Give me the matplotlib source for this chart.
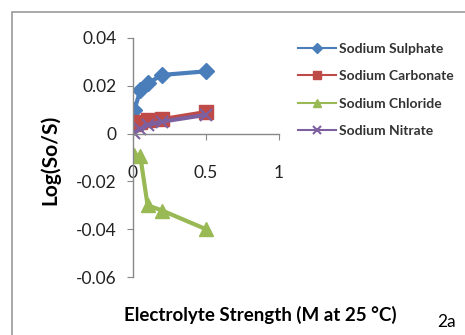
import matplotlib.pyplot as plt
from matplotlib.patches import Rectangle

plt.rcParams['font.family'] = ['Lato', 'DejaVu Sans']

# ----- data -----
strength = [0.01, 0.05, 0.1, 0.2, 0.5]
sulphate = [0.010, 0.018, 0.021, 0.0245, 0.026]
carbonate = [0.004, 0.005, 0.0055, 0.006, 0.009]
chloride = [-0.009, -0.0095, -0.030, -0.0322, -0.040]
nitrate = [0.0003, 0.002, 0.0035, 0.005, 0.0078]

y_ticks = [0.04, 0.02, 0, -0.02, -0.04, -0.06]
y_labels = ["0.04", "0.02", "0", "-0.02", "-0.04", "-0.06"]
x_ticks = [0, 0.5, 1]
x_labels = ["0", "0.5", "1"]

fig = plt.figure(figsize=(4.65, 3.35), dpi=100)
ax = fig.add_axes([0.286, 0.173, 0.314, 0.714])

ax.plot(strength, sulphate, color="#4A7EBB", lw=3, marker="D", ms=8, label="Sodium Sulphate")
ax.plot(strength, carbonate, color="#BE4B48", lw=3, marker="s", ms=10, label="Sodium Carbonate")
ax.plot(strength, chloride, color="#98B954", lw=3, marker="^", ms=10, label="Sodium Chloride")
ax.plot(strength, nitrate, color="#7D60A0", lw=3, marker="x", ms=9, mew=1.5, label="Sodium Nitrate")

ax.set_xlim(0, 1)
ax.set_ylim(-0.06, 0.04)
ax.set_yticks(y_ticks)
ax.set_yticklabels(y_labels)
ax.set_xticks(x_ticks)
ax.set_xticklabels(x_labels)

ax.spines["top"].set_visible(False)
ax.spines["right"].set_visible(False)
ax.spines["bottom"].set_position(("data", 0))
for s in ["left", "bottom"]:
    ax.spines[s].set_color("#888888")
    ax.spines[s].set_linewidth(1)
ax.tick_params(axis="y", length=4, color="#888888", pad=8, labelsize=12.5, labelcolor="#222222")
ax.tick_params(axis="x", length=4, color="#888888", pad=19, labelsize=12.5, labelcolor="#222222")

ax.set_ylabel("Log(So/S)", fontsize=15, fontweight="bold")
ax.yaxis.set_label_coords(-0.5, 0.49)
fig.text(0.559, 0.06, "Electrolyte Strength (M at 25 \u00b0C)", fontsize=13.5,
         fontweight="bold", ha="center", va="center")
fig.text(0.94, 0.04, "2a", fontsize=12.5, ha="left", va="center")

leg = fig.legend(loc="upper left", bbox_to_anchor=(0.615, 0.91), frameon=False,
                 fontsize=10, handlelength=2.7, labelspacing=1.12, handletextpad=0.25,
                 markerscale=0.6)
for t in leg.get_texts():
    t.set_fontweight("bold")
    t.set_color("#333333")
for h in leg.legend_handles:
    h.set_linewidth(1.5)

fig.patches.append(Rectangle((12 / 465, -0.1), 1.2, 1 - 12 / 335 + 0.1,
                             transform=fig.transFigure, fill=False,
                             edgecolor="#999999", lw=1.2))

fig.savefig("out.png", dpi=100)
